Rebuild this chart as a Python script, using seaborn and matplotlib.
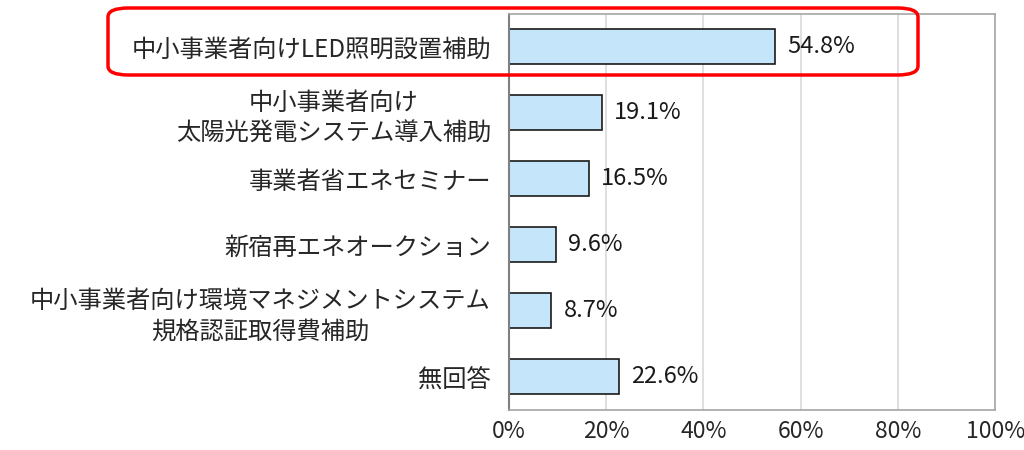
import matplotlib
matplotlib.use("Agg")
import matplotlib.pyplot as plt
import seaborn as sns
import pandas as pd
from matplotlib.patches import FancyBboxPatch

categories = [
    "中小事業者向けLED照明設置補助",
    "中小事業者向け\n太陽光発電システム導入補助",
    "事業者省エネセミナー",
    "新宿再エネオークション",
    "中小事業者向け環境マネジメントシステム\n規格認証取得費補助",
    "無回答",
]
values = [54.8, 19.1, 16.5, 9.6, 8.7, 22.6]
xticks = [0, 20, 40, 60, 80, 100]

df = pd.DataFrame({"item": categories, "pct": values})

sns.set_style("white")
plt.rcParams["font.family"] = ["Noto Sans CJK JP", "DejaVu Sans"]

fig = plt.figure(figsize=(10.24, 4.5), dpi=100)
ax = fig.add_axes([0.497, 0.089, 0.475, 0.88])

sns.barplot(data=df, y="item", x="pct", orient="h", color="#c5e5fb",
            edgecolor="#1a1a1a", linewidth=1.2, width=0.53, saturation=1, ax=ax)

ax.set_xlim(0, 100)
ax.set_xticks(xticks)
ax.set_xticklabels([f"{t}%" for t in xticks], fontsize=16.5)
ax.tick_params(axis="x", length=0, pad=7)
ax.tick_params(axis="y", length=0, pad=13)
for lbl in ax.get_yticklabels():
    lbl.set_fontsize(17.5)
    lbl.set_multialignment("center")
    lbl.set_linespacing(1.25)
ax.set_xlabel("")
ax.set_ylabel("")
ax.xaxis.grid(True, color="#d9d9d9", linewidth=1.2)
ax.set_axisbelow(True)
for side in ["top", "right", "bottom"]:
    ax.spines[side].set_color("#a6a6a6")
    ax.spines[side].set_linewidth(1.2)
ax.spines["left"].set_color("#808080")
ax.spines["left"].set_linewidth(1.5)

for i, v in enumerate(values):
    ax.text(v + 2.5, i, f"{v:.1f}%", va="center", ha="left", fontsize=17,
            color="#1a1a1a")

box = FancyBboxPatch((108 / 1024, 1 - 75 / 450), (918 - 108) / 1024, 67 / 450,
                     boxstyle="round,pad=0,rounding_size=0.02",
                     transform=fig.transFigure, fill=False,
                     edgecolor="#ff0000", linewidth=2.5, zorder=10)
fig.patches.append(box)

fig.savefig("out.png", dpi=100)
